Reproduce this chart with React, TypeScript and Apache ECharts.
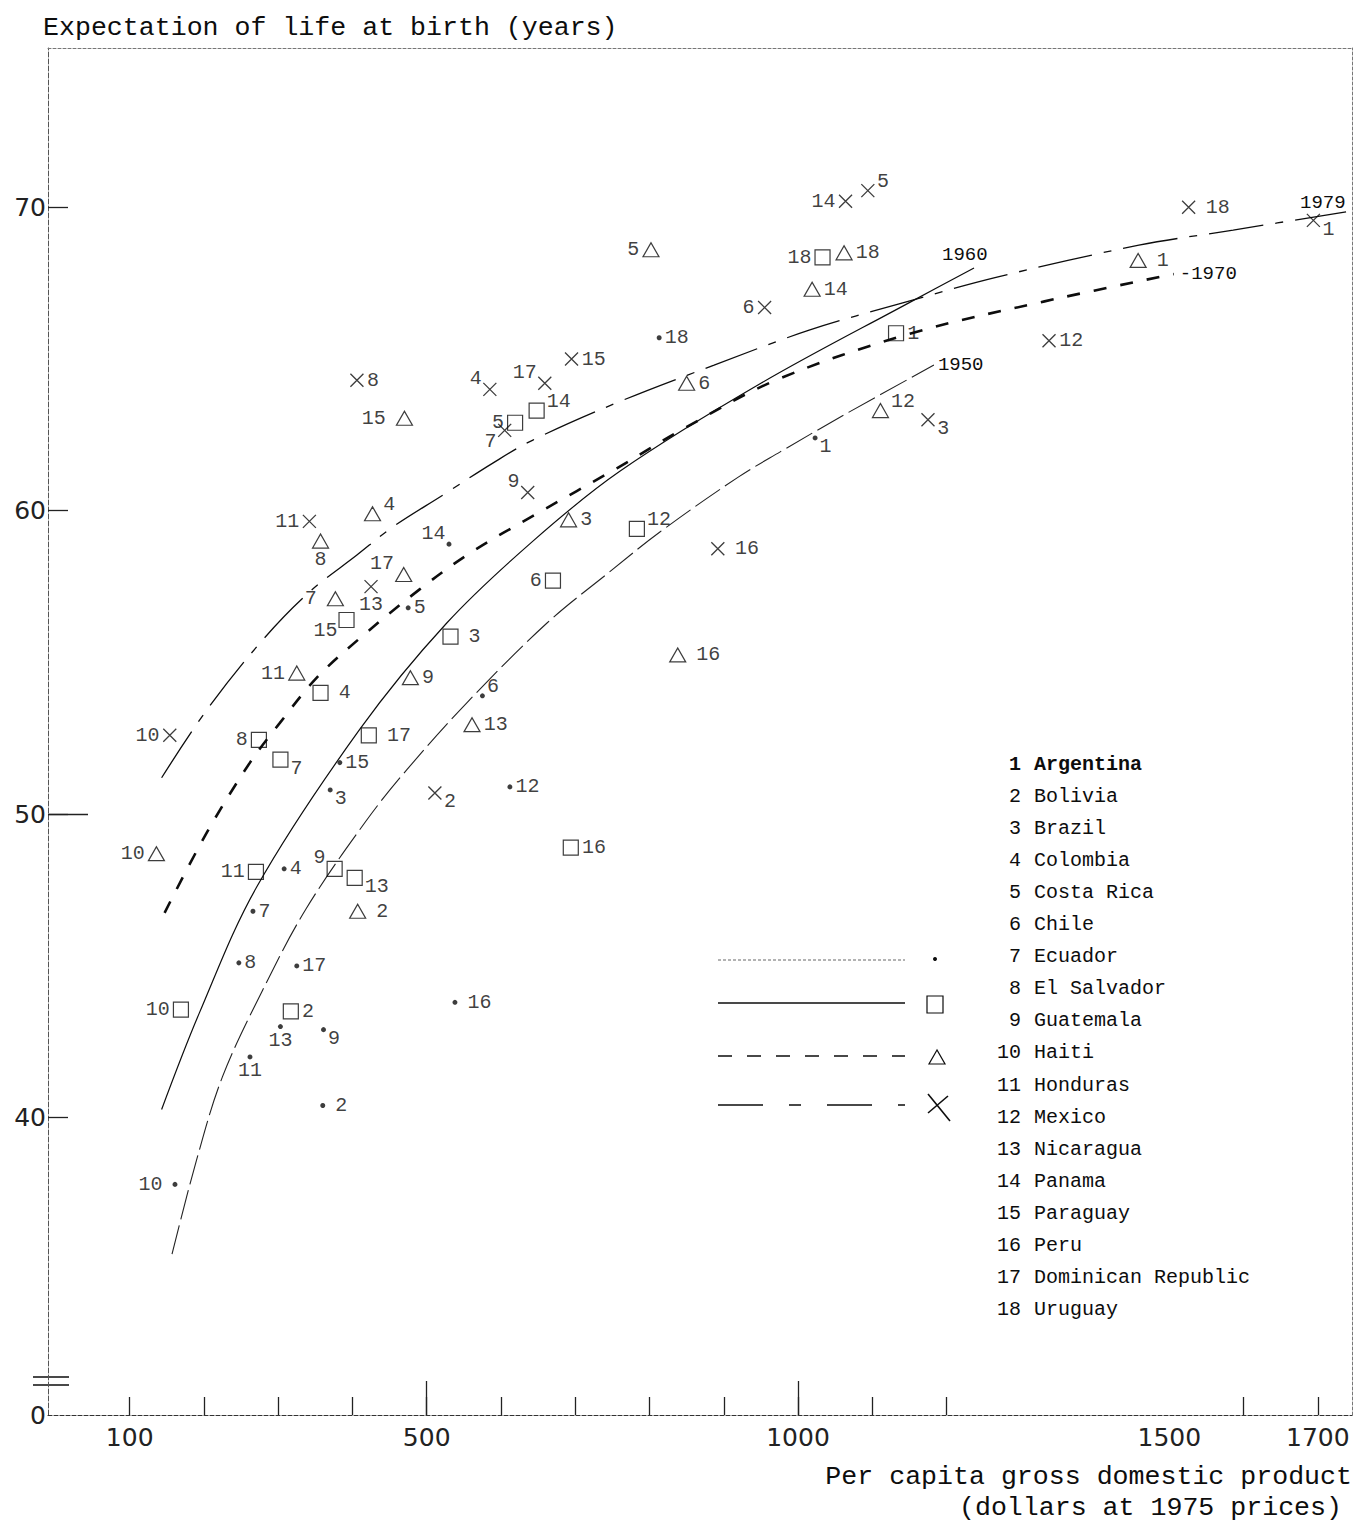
import React, { useEffect, useRef } from "react";
import * as echarts from "echarts";

// ---------- data ----------
const countries = [
  "Argentina", "Bolivia", "Brazil", "Colombia", "Costa Rica", "Chile",
  "Ecuador", "El Salvador", "Guatemala", "Haiti", "Honduras", "Mexico",
  "Nicaragua", "Panama", "Paraguay", "Peru", "Dominican Republic", "Uruguay",
];

const gdp1950 = [1023, 360, 370, 308, 475, 575, 266, 247, 361, 161, 262, 612, 303, 530, 383, 538, 325, 813];
const life1950 = [62.4, 40.4, 50.8, 48.2, 56.8, 53.9, 46.8, 45.1, 42.9, 37.8, 42.0, 50.9, 43.0, 58.9, 51.7, 43.8, 45.0, 65.7];

const gdp1960 = [1132, 317, 532, 357, 619, 670, 303, 274, 376, 169, 270, 783, 403, 648, 392, 694, 422, 1033];
const life1960 = [65.85, 43.5, 55.85, 54.0, 62.9, 57.7, 51.8, 52.45, 48.2, 43.56, 48.1, 59.4, 47.9, 63.3, 56.4, 48.9, 52.6, 68.35];

const gdp1970 = [1458, 407, 691, 427, 802, 850, 377, 357, 478, 136, 325, 1111, 561, 1019, 470, 838, 469, 1062];
const life1970 = [68.25, 46.8, 59.7, 59.9, 68.6, 64.2, 57.1, 59.0, 54.5, 48.7, 54.65, 63.3, 52.95, 67.3, 63.05, 55.25, 57.9, 68.5];

const gdp1979 = [1694, 511, 1175, 585, 1094, 955, 605, 406, 636, 154, 342, 1338, 425, 1064, 695, 892, 659, 1526];
const life1979 = [69.57, 50.7, 63.0, 64.0, 70.55, 66.7, 62.65, 64.3, 60.6, 52.6, 59.65, 65.6, 57.5, 70.2, 65.0, 58.75, 64.2, 70.0];

// fitted curves
const curve1950X = [157, 190, 225, 279, 338, 419, 473, 554, 662, 746, 814, 919, 976, 1065, 1183];
const curve1950Y = [35.5, 38.6, 41.35, 44.2, 46.9, 49.8, 51.46, 53.67, 56.3, 57.98, 59.3, 61.1, 61.94, 63.2, 64.8];
const curve1960X = [143, 194, 271, 410, 527, 643, 760, 950, 1153, 1237];
const curve1960Y = [40.27, 43.46, 47.6, 52.8, 56.3, 59.0, 61.3, 64.2, 66.9, 68.0];
const curve1970X = [147, 204, 262, 302, 352, 410, 490, 558, 648, 756, 842, 970, 1153, 1332, 1506];
const curve1970Y = [46.75, 49.4, 51.7, 53.0, 54.5, 55.8, 57.4, 58.6, 59.9, 61.4, 62.65, 64.3, 65.85, 66.9, 67.8];
const curve1979X = [143, 204, 279, 342, 406, 454, 522, 589, 643, 760, 887, 1015, 1141, 1268, 1459, 1586, 1738];
const curve1979Y = [51.2, 53.44, 55.74, 57.32, 58.54, 59.46, 60.52, 61.57, 62.33, 63.6, 64.8, 65.95, 66.85, 67.7, 68.75, 69.25, 69.85];

const xTicks = [100, 200, 300, 400, 500, 600, 700, 800, 900, 1000, 1100, 1200, 1600, 1700];
const xMajorTicks = [500, 1000];
const xLabels = [100, 500, 1000, 1500, 1700];
const yTicks = [40, 50, 60, 70];
const yMajorTicks = [50];
const yLabels = [40, 50, 60, 70];

// ---------- layout / style ----------
const X_MIN = -10;
const X_MAX = 1746;
const Y_MIN = 30.2;
const Y_MAX = 75.25;

const place1950 = ["rb", "R", "rb", "r", "r", "rt", "r", "r", "rb", "L", "b", "r", "b", "lt", "r", "R", "r", "r"];
const place1960 = ["r", "r", "R", "R", "l", "l", "rb", "l", "lt", "l", "l", "rt", "rb", "rt", "lb", "r", "R", "l"];
const place1970 = ["R", "R", "r", "rt", "l", "r", "L", "b", "r", "l", "l", "rt", "r", "r", "L", "R", "lt", "r"];
const place1979 = ["rb", "rb", "rb", "lt", "rt", "l", "lb", "r", "lt", "l", "l", "r", "b", "l", "r", "R", "lt", "R"];

const MONO = '"Liberation Mono", "DejaVu Sans Mono", monospace';
const INK = "#0d0d0d";

function labelFor(code: string): any {
  const base = { show: true };
  switch (code) {
    case "r": return { ...base, position: "right", distance: 3 };
    case "R": return { ...base, position: "right", distance: 10 };
    case "l": return { ...base, position: "left", distance: 3 };
    case "L": return { ...base, position: "left", distance: 10 };
    case "b": return { ...base, position: "bottom", distance: 1 };
    case "t": return { ...base, position: "top", distance: 1 };
    case "rt": return { ...base, position: "right", distance: 2, offset: [0, -9] };
    case "rb": return { ...base, position: "right", distance: 2, offset: [0, 9] };
    case "lt": return { ...base, position: "left", distance: 1, offset: [0, -11] };
    case "lb": return { ...base, position: "left", distance: 1, offset: [0, 11] };
    default: return { ...base, position: "right" };
  }
}

function points(xs: number[], ys: number[], places: string[]) {
  return xs.map((x, i) => ({ value: [x, ys[i]], label: labelFor(places[i]) }));
}

function curve(xs: number[], ys: number[]) {
  return xs.map((x, i) => [x, ys[i]]);
}

const pointLabel = {
  show: true,
  fontFamily: MONO,
  fontSize: 20,
  color: INK,
  formatter: (p: any) => String(p.dataIndex + 1),
};

const CROSS = "path://M0,0L10,10M10,0L0,10";

export default function App() {
  const ref = useRef<HTMLDivElement>(null);

  useEffect(() => {
    if (!ref.current) return;
    const chart = echarts.init(ref.current, undefined, { renderer: "svg" });

    const legendLines = [
      { y: 960, dash: [3, 2], width: 1, color: "#666" },
      { y: 1003, dash: null, width: 1.3, color: INK },
      { y: 1056, dash: [14, 15], width: 1.6, color: INK },
      { y: 1105, dash: [45, 26, 12, 26], width: 1.6, color: INK },
    ];

    const graphic: any[] = [
      {
        type: "text", x: 43, y: 28,
        style: { text: "Expectation of life at birth (years)", font: `26.6px ${MONO}`, fill: INK, verticalAlign: "middle", textAlign: "left" },
      },
      {
        type: "text", x: 1352, y: 1477,
        style: { text: "Per capita gross domestic product", font: `26.6px ${MONO}`, fill: INK, verticalAlign: "middle", textAlign: "right" },
      },
      {
        type: "text", x: 1342, y: 1508,
        style: { text: "(dollars at 1975 prices)", font: `26.6px ${MONO}`, fill: INK, verticalAlign: "middle", textAlign: "right" },
      },
      // axis break marks
      { type: "line", shape: { x1: 33, y1: 1377, x2: 69, y2: 1377 }, style: { stroke: INK, lineWidth: 1.4 } },
      { type: "line", shape: { x1: 33, y1: 1385, x2: 69, y2: 1385 }, style: { stroke: INK, lineWidth: 1.4 } },
      // legend markers
      { type: "circle", shape: { cx: 935, cy: 959, r: 2 }, style: { fill: INK } },
      { type: "rect", shape: { x: 927, y: 996, width: 16, height: 17 }, style: { fill: "none", stroke: INK, lineWidth: 1.2 } },
      { type: "polygon", shape: { points: [[937, 1050], [929, 1064], [945, 1064]] }, style: { fill: "none", stroke: INK, lineWidth: 1.2 } },
      { type: "line", shape: { x1: 928, y1: 1094, x2: 950, y2: 1121 }, style: { stroke: INK, lineWidth: 1.6 } },
      { type: "line", shape: { x1: 948, y1: 1096, x2: 928, y2: 1113 }, style: { stroke: INK, lineWidth: 1.6 } },
    ];

    legendLines.forEach((l) => {
      graphic.push({
        type: "line",
        shape: { x1: 718, y1: l.y, x2: 905, y2: l.y },
        style: { stroke: l.color, lineWidth: l.width, lineDash: l.dash || undefined },
      });
    });

    countries.forEach((name, i) => {
      const y = 764 + i * 32.1;
      const bold = i === 0;
      graphic.push({
        type: "text", x: 1021, y,
        style: { text: String(i + 1), font: `${bold ? "bold " : ""}20px ${MONO}`, fill: INK, textAlign: "right", verticalAlign: "middle" },
      });
      graphic.push({
        type: "text", x: 1034, y,
        style: { text: name, font: `${bold ? "bold " : ""}20px ${MONO}`, fill: INK, textAlign: "left", verticalAlign: "middle" },
      });
    });

    const axisFont = { fontFamily: '"DejaVu Sans", sans-serif', fontSize: 25, color: "#222" };

    const curveBase = {
      type: "line", smooth: 0.35,
      showSymbol: false, symbol: "none", silent: true, z: 1,
    };

    const option: any = {
      animation: false,
      backgroundColor: "#fff",
      grid: { left: 48, right: 7, top: 48, bottom: 110, containLabel: false },
      xAxis: [
        {
          type: "value", position: "bottom", min: X_MIN, max: X_MAX,
          axisLine: { show: true, onZero: false, lineStyle: { color: "#333", width: 1.2, type: [4, 2] } },
          axisTick: { show: true, inside: true, length: 18, customValues: xTicks, lineStyle: { color: "#222", width: 1.3 } },
          axisLabel: { show: true, customValues: xLabels, margin: 10, ...axisFont, formatter: (v: number) => String(v) },
          splitLine: { show: false },
        },
        {
          type: "value", position: "bottom", min: X_MIN, max: X_MAX,
          axisLine: { show: false, onZero: false },
          axisTick: { show: true, inside: true, length: 34, customValues: xMajorTicks, lineStyle: { color: "#222", width: 1.3 } },
          axisLabel: { show: false },
          splitLine: { show: false },
        },
        {
          type: "value", position: "top", min: X_MIN, max: X_MAX,
          axisLine: { show: true, onZero: false, lineStyle: { color: "#777", width: 1, type: [3, 2] } },
          axisTick: { show: false }, axisLabel: { show: false }, splitLine: { show: false },
        },
      ],
      yAxis: [
        {
          type: "value", position: "left", min: Y_MIN, max: Y_MAX,
          axisLine: { show: true, onZero: false, lineStyle: { color: "#555", width: 1, type: [5, 2] } },
          axisTick: { show: true, inside: true, length: 20, customValues: yTicks, lineStyle: { color: "#222", width: 1.3 } },
          axisLabel: {
            show: true, customValues: [Y_MIN, ...yLabels], margin: 2, ...axisFont,
            formatter: (v: number) => (v < 35 ? "0" : String(Math.round(v))),
          },
          splitLine: { show: false },
        },
        {
          type: "value", position: "left", min: Y_MIN, max: Y_MAX,
          axisLine: { show: false, onZero: false },
          axisTick: { show: true, inside: true, length: 40, customValues: yMajorTicks, lineStyle: { color: "#222", width: 1.3 } },
          axisLabel: { show: false }, splitLine: { show: false },
        },
        {
          type: "value", position: "right", min: Y_MIN, max: Y_MAX,
          axisLine: { show: true, onZero: false, lineStyle: { color: "#777", width: 1, type: [3, 2] } },
          axisTick: { show: false }, axisLabel: { show: false }, splitLine: { show: false },
        },
      ],
      graphic,
      series: [
        {
          ...curveBase, name: "1950 curve", data: curve(curve1950X, curve1950Y),
          lineStyle: { color: "#222", width: 1.1, type: [30, 6] },
          endLabel: { show: true, formatter: "1950", fontFamily: MONO, fontSize: 19, color: INK, distance: 4, offset: [0, 0] },
        },
        {
          ...curveBase, name: "1960 curve", data: curve(curve1960X, curve1960Y),
          lineStyle: { color: INK, width: 1.2, type: "solid" },
          endLabel: { show: true, formatter: "1960", fontFamily: MONO, fontSize: 19, color: INK, distance: 4, offset: [-36, -13] },
        },
        {
          ...curveBase, name: "1970 curve", data: curve(curve1970X, curve1970Y),
          lineStyle: { color: INK, width: 2.6, type: [13, 14] },
          endLabel: { show: true, formatter: "-1970", fontFamily: MONO, fontSize: 19, color: INK, distance: 4, offset: [2, 0] },
        },
        {
          ...curveBase, name: "1979 curve", data: curve(curve1979X, curve1979Y),
          lineStyle: { color: INK, width: 1.3, type: [55, 12, 8, 12] },
          endLabel: { show: true, formatter: "1979", fontFamily: MONO, fontSize: 19, color: INK, distance: 4, offset: [-50, -9] },
        },
        {
          name: "1950", type: "scatter", data: points(gdp1950, life1950, place1950),
          symbol: "circle", symbolSize: 5, z: 3,
          itemStyle: { color: INK },
          label: pointLabel,
        },
        {
          name: "1960", type: "scatter", data: points(gdp1960, life1960, place1960),
          symbol: "rect", symbolSize: 15, z: 3,
          itemStyle: { color: "transparent", borderColor: INK, borderWidth: 1.2 },
          label: pointLabel,
        },
        {
          name: "1970", type: "scatter", data: points(gdp1970, life1970, place1970),
          symbol: "triangle", symbolSize: [16, 14], z: 3,
          itemStyle: { color: "transparent", borderColor: INK, borderWidth: 1.2 },
          label: pointLabel,
        },
        {
          name: "1979", type: "scatter", data: points(gdp1979, life1979, place1979),
          symbol: CROSS, symbolSize: 13, z: 3,
          itemStyle: { color: "transparent", borderColor: INK, borderWidth: 1.3 },
          label: pointLabel,
        },
      ],
    };

    chart.setOption(option);
    return () => chart.dispose();
  }, []);

  return (
    <div
      ref={ref}
      style={{ position: "absolute", left: 0, top: 0, width: 1359, height: 1525, background: "#fff" }}
    />
  );
}
